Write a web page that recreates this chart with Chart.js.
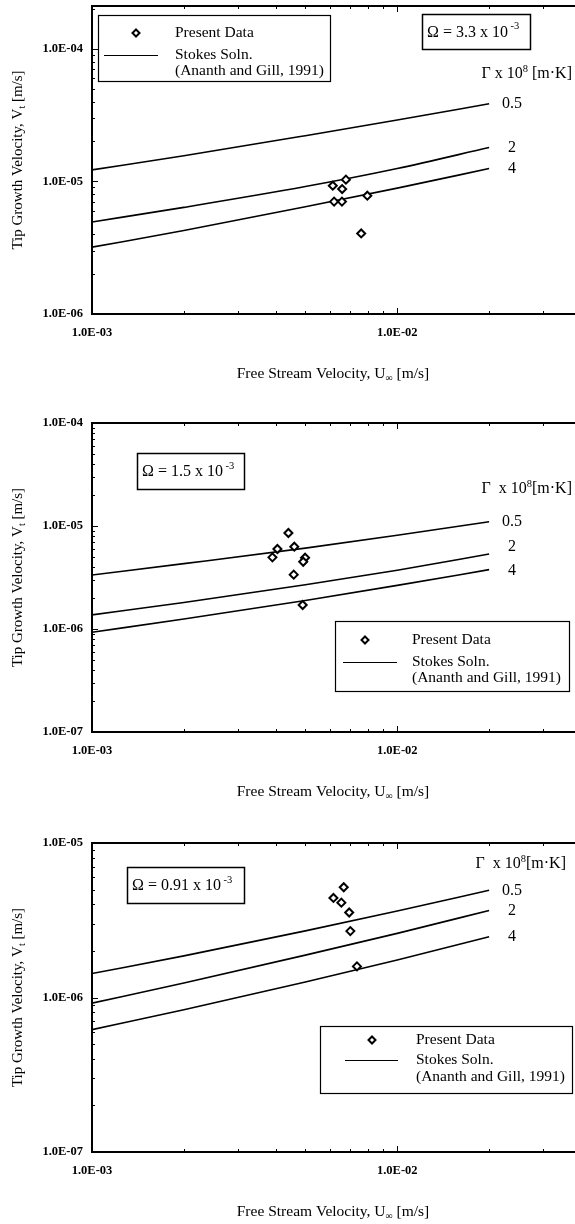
<!DOCTYPE html>
<html>
<head>
<meta charset="utf-8">
<script src="https://cdn.jsdelivr.net/npm/chart.js@4.4.1/dist/chart.umd.min.js"></script>
<style>
  body { margin: 0; background: #fff; overflow: hidden; width: 575px; height: 1224px; position: relative; }
  .panel { position: absolute; left: 0; width: 575px; overflow: hidden; }
</style>
</head>
<body>
<div class="panel" style="top:0;height:400px"><canvas id="chart1" width="590" height="400"></canvas></div>
<div class="panel" style="top:400px;height:420px"><canvas id="chart2" width="590" height="420"></canvas></div>
<div class="panel" style="top:820px;height:404px"><canvas id="chart3" width="590" height="404"></canvas></div>
<script>
// x where the Stokes curves are given [m/s]
const lineX = [1e-3, 2e-3, 5e-3, 1e-2, 2e-2];
const gammaLabels = ["0.5", "2", "4"];
const legendLabels = ["Present Data", "Stokes Soln.", "(Ananth and Gill, 1991)"];
const xTicks = [1e-3, 1e-2];

// top panel, omega = 3.3e-3
const omega1 = "3.3";
const data1X = [6.15e-3, 6.79e-3, 6.60e-3, 6.21e-3, 6.59e-3, 7.98e-3, 7.62e-3];
const data1Y = [9.28e-6, 1.03e-5, 8.75e-6, 7.04e-6, 7.04e-6, 7.80e-6, 4.05e-6];
const stokes1G05 = [1.22e-5, 1.56e-5, 2.21e-5, 2.90e-5, 3.85e-5];
const stokes1G2 = [4.94e-6, 6.37e-6, 9.14e-6, 1.25e-5, 1.80e-5];
const stokes1G4 = [3.19e-6, 4.26e-6, 6.43e-6, 8.89e-6, 1.25e-5];
const y1Ticks = [1e-6, 1e-5, 1e-4];

// middle panel, omega = 1.5e-3
const omega2 = "1.5";
const data2X = [4.40e-3, 4.05e-3, 3.90e-3, 4.60e-3, 4.99e-3, 4.92e-3, 4.58e-3, 4.90e-3];
const data2Y = [8.55e-6, 5.98e-6, 4.96e-6, 6.30e-6, 4.92e-6, 4.50e-6, 3.37e-6, 1.71e-6];
const stokes2G05 = [3.34e-6, 4.31e-6, 6.10e-6, 8.13e-6, 1.10e-5];
const stokes2G2 = [1.37e-6, 1.81e-6, 2.69e-6, 3.72e-6, 5.35e-6];
const stokes2G4 = [9.29e-7, 1.25e-6, 1.89e-6, 2.65e-6, 3.77e-6];
const y2Ticks = [1e-7, 1e-6, 1e-5, 1e-4];

// bottom panel, omega = 0.91e-3
const omega3 = "0.91";
const data3X = [6.68e-3, 6.18e-3, 6.56e-3, 6.96e-3, 7.02e-3, 7.38e-3];
const data3Y = [5.17e-6, 4.41e-6, 4.11e-6, 3.55e-6, 2.69e-6, 1.59e-6];
const stokes3G05 = [1.43e-6, 1.86e-6, 2.70e-6, 3.63e-6, 4.94e-6];
const stokes3G2 = [9.20e-7, 1.24e-6, 1.88e-6, 2.60e-6, 3.66e-6];
const stokes3G4 = [6.19e-7, 8.34e-7, 1.26e-6, 1.75e-6, 2.47e-6];
const y3Ticks = [1e-7, 1e-6, 1e-5];

const FONT = '"Liberation Serif", "Times New Roman", serif';
Chart.defaults.font.family = FONT;
Chart.defaults.color = "#000";

function fnt(size, weight) {
  return (weight || "normal") + " " + size + "px " + FONT;
}

function sciLabel(v) {
  const e = Math.round(Math.log10(v));
  return "1.0E" + (e < 0 ? "-" : "+") + String(Math.abs(e)).padStart(2, "0");
}

// text made of pieces, for sub/superscripts
function richText(ctx, parts, x, y, align) {
  let w = 0;
  parts.forEach((p) => {
    ctx.font = fnt(p.size);
    p.w = ctx.measureText(p.t).width;
    w += p.w;
  });
  let cx = align === "center" ? x - w / 2 : align === "right" ? x - w : x;
  ctx.textAlign = "left";
  ctx.textBaseline = "middle";
  parts.forEach((p) => {
    ctx.font = fnt(p.size);
    ctx.fillText(p.t, cx, y + (p.dy || 0));
    cx += p.w;
  });
}

function logSteps(min, max) {
  const out = [];
  for (let e = Math.floor(Math.log10(min)); e <= Math.ceil(Math.log10(max)); e++) {
    for (let m = 1; m < 10; m++) {
      const v = m * Math.pow(10, e);
      if (v >= min * 0.999 && v <= max * 1.001) out.push({ v: v, major: m === 1 });
    }
  }
  return out;
}

function diamond(ctx, x, y, r) {
  ctx.beginPath();
  ctx.moveTo(x, y - r);
  ctx.lineTo(x + r, y);
  ctx.lineTo(x, y + r);
  ctx.lineTo(x - r, y);
  ctx.closePath();
  ctx.fillStyle = "#fff";
  ctx.fill();
  ctx.stroke();
}

const decor = {
  id: "decor",
  afterDraw(chart, args, o) {
    const ctx = chart.ctx;
    const a = chart.chartArea;
    const xs = chart.scales.x;
    const ys = chart.scales.y;
    ctx.save();
    ctx.strokeStyle = "#000";
    ctx.lineWidth = 2;
    ctx.beginPath();
    ctx.moveTo(a.left, a.top);
    ctx.lineTo(a.right, a.top);
    ctx.lineTo(a.right, a.bottom);
    ctx.stroke();

    // small inward ticks on all sides
    ctx.lineWidth = 1;
    ctx.beginPath();
    logSteps(xs.min, xs.max).forEach((t) => {
      const px = Math.round(xs.getPixelForValue(t.v)) + 0.5;
      const len = t.major ? 6 : 3;
      ctx.moveTo(px, a.bottom); ctx.lineTo(px, a.bottom - len);
      ctx.moveTo(px, a.top); ctx.lineTo(px, a.top + len);
    });
    logSteps(ys.min, ys.max).forEach((t) => {
      const py = Math.round(ys.getPixelForValue(t.v)) + 0.5;
      const len = t.major ? 6 : 3;
      ctx.moveTo(a.left, py); ctx.lineTo(a.left + len, py);
      ctx.moveTo(a.right, py); ctx.lineTo(a.right - len, py);
    });
    ctx.stroke();

    ctx.fillStyle = "#000";
    richText(ctx, [
      { t: "Free Stream Velocity, U", size: 15.5 },
      { t: "\u221e", size: 10, dy: 4 },
      { t: " [m/s]", size: 15.5 }
    ], o.xTitleX, a.bottom + 60, "center");

    ctx.save();
    ctx.translate(18, (a.top + a.bottom) / 2);
    ctx.rotate(-Math.PI / 2);
    richText(ctx, [
      { t: "Tip Growth Velocity, V", size: 15 },
      { t: "t", size: 10, dy: 4 },
      { t: " [m/s]", size: 15 }
    ], 0, 0, "center");
    ctx.restore();

    // omega box
    const b = o.omegaBox;
    ctx.lineWidth = 1.5;
    ctx.fillStyle = "#fff";
    ctx.fillRect(b.l, b.t, b.r - b.l, b.b - b.t);
    ctx.strokeRect(b.l + 0.5, b.t + 0.5, b.r - b.l, b.b - b.t);
    ctx.fillStyle = "#000";
    richText(ctx, [
      { t: "\u03a9 = " + o.omega + " x 10", size: 16 },
      { t: " -3", size: 10.5, dy: -6 }
    ], b.l + 5, (b.t + b.b) / 2 + 1, "left");

    // legend box
    const L = o.legend;
    ctx.lineWidth = 1.2;
    ctx.fillStyle = "#fff";
    ctx.fillRect(L.l, L.t, L.r - L.l, L.b - L.t);
    ctx.strokeRect(L.l + 0.5, L.t + 0.5, L.r - L.l, L.b - L.t);
    ctx.lineWidth = 2;
    diamond(ctx, L.markX, L.rows[0], 3.5);
    ctx.lineWidth = 1.2;
    ctx.beginPath();
    ctx.moveTo(L.line1, L.rows[1] + 0.5);
    ctx.lineTo(L.line2, L.rows[1] + 0.5);
    ctx.stroke();
    ctx.fillStyle = "#000";
    ctx.font = fnt(15.5);
    ctx.textAlign = "left";
    ctx.textBaseline = "middle";
    legendLabels.forEach((s, i) => ctx.fillText(s, L.textX, L.rows[i]));

    // gamma heading and curve labels at the curve ends
    richText(ctx, [
      { t: o.gammaHead, size: 16 },
      { t: "8", size: 10.5, dy: -5 },
      { t: o.gammaTail, size: 16 }
    ], o.gamma.x, o.gamma.y, "right");
    ctx.font = fnt(16);
    ctx.textAlign = "center";
    gammaLabels.forEach((s, i) => {
      const pts = chart.getDatasetMeta(i + 1).data;
      const p = pts[pts.length - 1];
      ctx.fillText(s, p.x + 23, p.y + (o.labelDy ? o.labelDy[i] : 0));
    });
    ctx.restore();
  }
};

function pairs(xv, yv) {
  return xv.map((x, i) => ({ x: x, y: yv[i] }));
}

function makeChart(id, pts, curves, yMin, yMax, yTicks, xHeight, topPad, deco) {
  const lineSets = curves.map((c, i) => ({
    label: "\u0393 = " + gammaLabels[i],
    data: pairs(lineX, c),
    showLine: true,
    borderColor: "#000",
    borderWidth: 1.6,
    pointRadius: 0,
    cubicInterpolationMode: "monotone",
    order: 2
  }));
  return new Chart(document.getElementById(id), {
    type: "scatter",
    data: {
      datasets: [{
        label: legendLabels[0],
        data: pts,
        pointStyle: "rectRot",
        pointRadius: 4,
        borderWidth: 2,
        borderColor: "#000",
        backgroundColor: "#fff",
        order: 1
      }].concat(lineSets)
    },
    options: {
      responsive: false,
      animation: false,
      layout: { padding: { top: topPad, right: 9, left: 0, bottom: 0 } },
      plugins: { legend: { display: false }, tooltip: { enabled: false }, decor: deco },
      scales: {
        x: {
          type: "logarithmic",
          min: 1e-3,
          max: 0.04,
          grid: { display: false, drawTicks: false },
          border: { display: true, color: "#000", width: 2 },
          afterBuildTicks: (s) => { s.ticks = xTicks.map((v) => ({ value: v })); },
          afterFit: (s) => { s.height = xHeight; s.paddingLeft = 0; s.paddingRight = 0; },
          ticks: { callback: (v) => sciLabel(v), autoSkip: false, maxRotation: 0, padding: 11, color: "#000", font: { size: 12.5, weight: "bold" } }
        },
        y: {
          type: "logarithmic",
          min: yMin,
          max: yMax,
          grid: { display: false, drawTicks: false },
          border: { display: true, color: "#000", width: 2 },
          afterBuildTicks: (s) => { s.ticks = yTicks.map((v) => ({ value: v })); },
          afterFit: (s) => { s.width = 92; s.paddingTop = 0; s.paddingBottom = 0; },
          ticks: { callback: (v) => sciLabel(v), autoSkip: false, padding: 9, color: "#000", font: { size: 12.5, weight: "bold" } }
        }
      }
    },
    plugins: [decor]
  });
}

makeChart("chart1", pairs(data1X, data1Y), [stokes1G05, stokes1G2, stokes1G4], 1e-6, 2.1e-4, y1Ticks, 86, 5, {
  omega: omega1,
  omegaBox: { l: 422, t: 14, r: 530, b: 49 },
  legend: { l: 98, t: 15, r: 330, b: 81, markX: 136, line1: 104, line2: 158, textX: 175, rows: [33, 55, 71] },
  gamma: { x: 572, y: 74 }, gammaHead: "\u0393 x 10", gammaTail: " [m\u00b7K]",
  xTitleX: 333
});

makeChart("chart2", pairs(data2X, data2Y), [stokes2G05, stokes2G2, stokes2G4], 1e-7, 1e-4, y2Ticks, 88, 23, {
  omega: omega2,
  omegaBox: { l: 137, t: 53, r: 244, b: 89 },
  legend: { l: 335, t: 221, r: 569, b: 291, markX: 365, line1: 343, line2: 397, textX: 412, rows: [240, 262, 278] },
  gamma: { x: 572, y: 89 }, gammaHead: "\u0393  x 10", gammaTail: "[m\u00b7K]",
  labelDy: [0, -7, 1],
  xTitleX: 333
});

makeChart("chart3", pairs(data3X, data3Y), [stokes3G05, stokes3G2, stokes3G4], 1e-7, 1e-5, y3Ticks, 72, 23, {
  omega: omega3,
  omegaBox: { l: 127, t: 47, r: 244, b: 83 },
  legend: { l: 320, t: 206, r: 572, b: 273, markX: 372, line1: 345, line2: 398, textX: 416, rows: [220, 240, 257] },
  gamma: { x: 566, y: 44 }, gammaHead: "\u0393  x 10", gammaTail: "[m\u00b7K]",
  xTitleX: 333
});
</script>
</body>
</html>
